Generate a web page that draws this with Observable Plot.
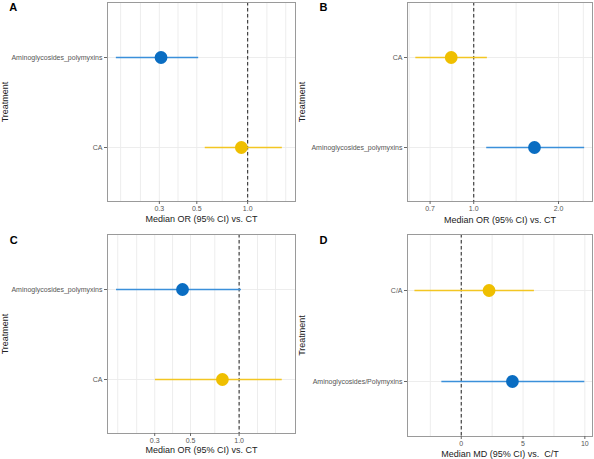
<!DOCTYPE html>
<html><head><meta charset="utf-8">
<script src="https://cdn.jsdelivr.net/npm/d3@7"></script>
<script src="https://cdn.jsdelivr.net/npm/@observablehq/plot@0.6"></script>
<style>
body{margin:0;background:#fff;font-family:"Liberation Sans",Arial,sans-serif}
#root{position:relative;width:594px;height:459px;overflow:hidden}
.panel{position:absolute}
</style></head><body><div id="root"></div>
<script>
// Panel A
const treatmentsA = ["Aminoglycosides_polymyxins", "CA"];
const medianA = [0.307, 0.918];
const lowerA = [0.167, 0.561];
const upperA = [0.513, 1.605];
// Panel B
const treatmentsB = ["CA", "Aminoglycosides_polymyxins"];
const medianB = [0.832, 1.643];
const lowerB = [0.623, 1.112];
const upperB = [1.118, 2.476];
// Panel C
const treatmentsC = ["Aminoglycosides_polymyxins", "CA"];
const medianC = [0.446, 0.788];
const lowerC = [0.174, 0.303];
const upperC = [1.033, 1.85];
// Panel D
const treatmentsD = ["C/A", "Aminoglycosides/Polymyxins"];
const medianD = [2.25, 4.14];
const lowerD = [-3.75, -1.57];
const upperD = [5.92, 10.0];

const ticksOR_AC = [0.3, 0.5, 1.0];
const ticksOR_B = [0.7, 1.0, 2.0];
const ticksMD = [0, 5, 10];
const gridOR_AC = [0.177, 0.232, 0.3, 0.387, 0.5, 0.707, 1.0, 1.3, 1.68];
const gridOR_B = [0.59, 0.7, 0.837, 1.0, 1.414, 2.0, 2.45];
const gridMD = [-2.5, 0, 2.5, 5, 7.5, 10];

const colorOf = t => /^Amino/.test(t) ? {dot: "#0a6dc2", line: "#3b90da"} : {dot: "#efbf00", line: "#f3c623"};

const FONT = "'Liberation Sans', Arial, Helvetica, sans-serif";

function panel(cfg) {
  const rows = cfg.cats.map((t, i) => ({t, m: cfg.med[i], lo: cfg.lo[i], hi: cfg.hi[i]}));
  const marks = [
    Plot.ruleX(cfg.grid, {stroke: "#ebebeb", strokeWidth: 0.9}),
    Plot.ruleY(cfg.cats, {y: d => d, stroke: "#ebebeb", strokeWidth: 0.9}),
    Plot.ruleX([cfg.ref], {stroke: "#333", strokeWidth: 1.1, strokeDasharray: "3.5,2.5"}),
  ];
  rows.forEach(r => {
    const c = colorOf(r.t);
    marks.push(Plot.ruleY([r], {x1: "lo", x2: "hi", y: "t", stroke: c.line, strokeWidth: 1.3, strokeOpacity: 1}));
    marks.push(Plot.dot([r], {x: "m", y: "t", r: 6.4, fill: c.dot, stroke: "none"}));
  });
  marks.push(
    Plot.frame({stroke: "#9a9a9a", strokeWidth: 1}),
    Plot.axisX({ticks: cfg.ticks, tickFormat: cfg.fmt, tickSize: 3, tickPadding: 2, fontSize: 7, fill: "#555", stroke: "#666", label: null}),
    Plot.axisY({tickSize: 3, tickPadding: 2, fontSize: 7, fill: "#555", stroke: "#666", label: null}),
    Plot.text([cfg.xTitle], {frameAnchor: "bottom", lineAnchor: "middle", textAnchor: "middle", dy: cfg.titleDy, fontSize: 9, fill: "#222"}),
    Plot.text(["Treatment"], {frameAnchor: "left", lineAnchor: "middle", textAnchor: "middle", rotate: -90, dx: 5 - cfg.ml, fontSize: 9, fill: "#222"}),
    Plot.text([cfg.letter], {frameAnchor: "top-left", lineAnchor: "middle", textAnchor: "start", dx: cfg.letterX - cfg.ml, dy: cfg.letterDy, fontSize: 11, fontWeight: "bold", fill: "#000"})
  );
  const svg = Plot.plot({
    width: 297, height: cfg.height,
    marginLeft: cfg.ml, marginRight: 2, marginTop: cfg.mt, marginBottom: cfg.mb,
    style: {fontFamily: FONT, background: "transparent", overflow: "visible"},
    x: {type: cfg.type, domain: cfg.domain},
    y: {type: "point", domain: cfg.cats, padding: 0.6},
    marks
  });
  const div = document.createElement("div");
  div.className = "panel";
  div.style.left = cfg.left + "px";
  div.style.top = cfg.top + "px";
  div.appendChild(svg);
  document.getElementById("root").appendChild(div);
}

const fmt1 = d3.format(".1f");
const fmt0 = d3.format("d");

panel({letter: "A", left: 0, top: 0, height: 229, ml: 107, mt: 2, mb: 28, letterX: 8.7, letterDy: 5.3,
  cats: treatmentsA, med: medianA, lo: lowerA, hi: upperA, type: "log", domain: [0.148, 1.92],
  ticks: ticksOR_AC, fmt: fmt1, grid: gridOR_AC, ref: 1, xTitle: "Median OR (95% CI) vs. CT", titleDy: 18});
panel({letter: "B", left: 297, top: 0, height: 229, ml: 110, mt: 2, mb: 28, letterX: 22, letterDy: 5.3,
  cats: treatmentsB, med: medianB, lo: lowerB, hi: upperB, type: "log", domain: [0.582, 2.64],
  ticks: ticksOR_B, fmt: fmt1, grid: gridOR_B, ref: 1, xTitle: "Median OR (95% CI) vs. CT", titleDy: 18.5});
panel({letter: "C", left: 0, top: 229, height: 230, ml: 107, mt: 5, mb: 26, letterX: 9.3, letterDy: 6.3,
  cats: treatmentsC, med: medianC, lo: lowerC, hi: upperC, type: "log", domain: [0.153, 2.235],
  ticks: ticksOR_AC, fmt: fmt1, grid: gridOR_AC, ref: 1, xTitle: "Median OR (95% CI) vs. CT", titleDy: 17});
panel({letter: "D", left: 297, top: 229, height: 230, ml: 110, mt: 5, mb: 23, letterX: 22, letterDy: 6.3,
  cats: treatmentsD, med: medianD, lo: lowerD, hi: upperD, type: "linear", domain: [-4.35, 10.62],
  ticks: ticksMD, fmt: fmt0, grid: gridMD, ref: 0, xTitle: "Median MD (95% CI) vs.  C/T", titleDy: 17.3});
</script></body></html>
